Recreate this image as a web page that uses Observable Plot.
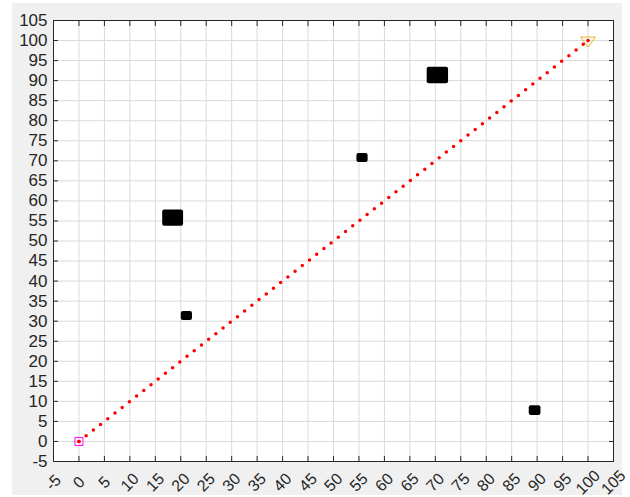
<!DOCTYPE html>
<html>
<head>
<meta charset="utf-8">
<script src="https://cdn.jsdelivr.net/npm/d3@7"></script>
<script src="https://cdn.jsdelivr.net/npm/@observablehq/plot@0.6"></script>
<style>
  html, body { margin: 0; padding: 0; background: #ffffff; }
  #bg { position: absolute; left: 12px; top: 3px; width: 610px; height: 492px; background: #f0f0f0; }
  #chart { position: absolute; left: 0; top: 0; }
</style>
</head>
<body>
<div id="bg"></div>
<div id="chart"></div>
<script>
// Tick values
const xTicks = [-5, 0, 5, 10, 15, 20, 25, 30, 35, 40, 45, 50, 55, 60, 65, 70, 75, 80, 85, 90, 95, 100, 105];
const yTicks = [-5, 0, 5, 10, 15, 20, 25, 30, 35, 40, 45, 50, 55, 60, 65, 70, 75, 80, 85, 90, 95, 100, 105];

// Path (start -> goal)
const pathX = [0, 100];
const pathY = [0, 100];

// Start and goal
const startX = [0];
const startY = [0];
const goalX = [100];
const goalY = [100];

// Obstacles: centres and extents (data units)
const obsX = [18.5, 21.2, 55.7, 70.5, 89.6];
const obsY = [55.7, 31.3, 70.7, 91.3, 7.7];
const obsW = [4.1, 2.2, 2.2, 4.2, 2.3];
const obsH = [4.1, 2.2, 2.2, 4.1, 2.4];

const obstacles = obsX.map((x, i) => ({x, y: obsY[i], w: obsW[i], h: obsH[i]}));
const path = pathX.map((x, i) => ({x, y: pathY[i]}));
const ends = [{x: startX[0], y: startY[0]}, {x: goalX[0], y: goalY[0]}];

const axisColor = "#262626";
const fmt = d => String(d);

const triangleDown = {
  draw(context) {
    context.moveTo(-7.5, -3.5);
    context.lineTo(7.5, -3.5);
    context.lineTo(0, 6.5);
    context.closePath();
  }
};

const chart = Plot.plot({
  width: 630,
  height: 497,
  marginLeft: 53,
  marginTop: 20,
  marginRight: 17,
  marginBottom: 36,
  style: {background: "transparent", fontFamily: "'Liberation Sans', Arial, sans-serif", fontSize: "17px", color: axisColor, overflow: "visible"},
  x: {domain: [-5, 105], axis: null},
  y: {domain: [-5, 105], axis: null},
  marks: [
    Plot.frame({fill: "white", stroke: null}),
    Plot.gridX(xTicks, {stroke: "#dadada", strokeOpacity: 1, strokeWidth: 1}),
    Plot.gridY(yTicks, {stroke: "#dadada", strokeOpacity: 1, strokeWidth: 1}),
    Plot.line(path, {x: "x", y: "y", stroke: "#ff0000", strokeWidth: 3.5, strokeLinecap: "round", strokeDasharray: "0 9.17"}),
    Plot.rect(obstacles, {x1: d => d.x - d.w / 2, x2: d => d.x + d.w / 2, y1: d => d.y - d.h / 2, y2: d => d.y + d.h / 2, fill: "black", rx: 2}),
    Plot.dot(ends, {x: "x", y: "y", r: 1.8, fill: "#ff0000"}),
    Plot.dot([ends[0]], {x: "x", y: "y", symbol: "square", r: 4.5, stroke: "#ff00ff", strokeWidth: 1, fill: "none"}),
    Plot.dot([ends[1]], {x: "x", y: "y", symbol: triangleDown, r: 5, stroke: "#EDB120", strokeWidth: 1, fill: "none"}),
    Plot.frame({stroke: axisColor, strokeWidth: 1}),
    Plot.axisX(xTicks, {anchor: "bottom", tickSize: -5, tickPadding: 26, tickRotate: -45, textAnchor: "middle", lineAnchor: "middle", tickFormat: fmt, label: null, stroke: axisColor, fill: axisColor, fontSize: 16}),
    Plot.axisX(xTicks, {anchor: "top", tickSize: -5, fill: "none", label: null, stroke: axisColor}),
    Plot.axisY(yTicks, {anchor: "left", tickSize: -5, tickPadding: 11, tickFormat: fmt, label: null, stroke: axisColor, fill: axisColor, fontSize: 17}),
    Plot.axisY(yTicks, {anchor: "right", tickSize: -5, fill: "none", label: null, stroke: axisColor})
  ]
});
document.getElementById("chart").appendChild(chart);
</script>
</body>
</html>
